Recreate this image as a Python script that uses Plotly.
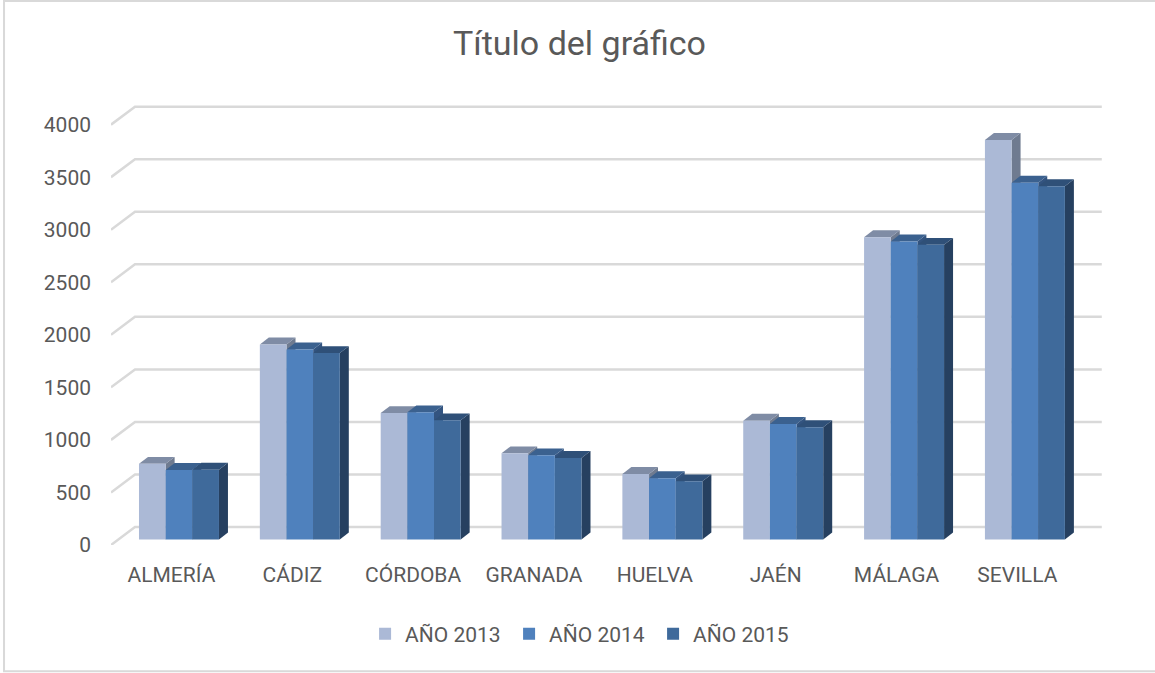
import plotly.graph_objects as go

CATEGORIES = ["ALMERÍA", "CÁDIZ", "CÓRDOBA", "GRANADA", "HUELVA", "JAÉN", "MÁLAGA", "SEVILLA"]
SERIES_NAMES = ["AÑO 2013", "AÑO 2014", "AÑO 2015"]
VALUES_2013 = [720, 1857, 1203, 820, 624, 1131, 2877, 3802]
VALUES_2014 = [662, 1809, 1210, 801, 583, 1100, 2836, 3396]
VALUES_2015 = [665, 1774, 1134, 776, 554, 1068, 2804, 3362]
TICKS = [0, 500, 1000, 1500, 2000, 2500, 3000, 3500, 4000]

FRONT = ["#ABB9D6", "#4F81BD", "#3F6A9B"]
TOP = ["#7F8CA5", "#3B618F", "#2F5078"]
SIDE = ["#6F7B90", "#335480", "#264060"]
GRID = "#D9D9D9"
TEXT = "#595959"
FONT = "Roboto"

# pseudo-3D geometry in axis units
BAR_W = 0.2206
PLANE_DX, PLANE_DY = 0.0625, 52
DEPTH_DX, DEPTH_DY = 0.0744, 66
WALL_DX, WALL_DY = 0.1985, 171
X0, X1 = -0.5, 7.5

W, H = 1155, 673
L, B, T = 111, 673 - 545.5, 60
XMAX = 7.75
R = W - (L + (XMAX - X0) * 120.875)
Y_MAX = (545.5 - T) / 0.1052

fig = go.Figure()

# walls / gridlines
for t in TICKS:
    fig.add_trace(go.Scatter(
        x=[X0, X0 + WALL_DX, X1 + WALL_DX], y=[t, t + WALL_DY, t + WALL_DY],
        mode="lines", line=dict(color=GRID, width=2.5), showlegend=False, hoverinfo="skip"))

all_values = [VALUES_2013, VALUES_2014, VALUES_2015]
offsets = [-BAR_W, 0, BAR_W]

# top and side faces, in the back-to-front order
for c in range(len(CATEGORIES)):
    for s, vals in enumerate(all_values):
        v = vals[c] + PLANE_DY
        xl = c + PLANE_DX + offsets[s] - BAR_W / 2
        xr = xl + BAR_W
        fig.add_trace(go.Scatter(
            x=[xr, xr + DEPTH_DX, xr + DEPTH_DX, xr, xr],
            y=[PLANE_DY, PLANE_DY + DEPTH_DY, v + DEPTH_DY, v, PLANE_DY],
            fill="toself", fillcolor=SIDE[s], mode="none",
            showlegend=False, hoverinfo="skip"))
        fig.add_trace(go.Scatter(
            x=[xl, xr, xr + DEPTH_DX, xl + DEPTH_DX, xl],
            y=[v, v, v + DEPTH_DY, v + DEPTH_DY, v],
            fill="toself", fillcolor=TOP[s], mode="none",
            showlegend=False, hoverinfo="skip"))

# front faces on an overlaid axis pair so they sit above the depth faces
for s, vals in enumerate(all_values):
    fig.add_trace(go.Bar(
        x=[c + PLANE_DX + offsets[s] for c in range(len(CATEGORIES))],
        y=vals, base=PLANE_DY, width=BAR_W, name=SERIES_NAMES[s],
        marker=dict(color=FRONT[s], line=dict(width=0)),
        xaxis="x2", yaxis="y2"))

fig.update_layout(
    width=W, height=H, autosize=False,
    margin=dict(l=L, r=R, t=T, b=B, pad=0),
    paper_bgcolor="white", plot_bgcolor="white",
    barmode="overlay",
    font=dict(family=FONT, color=TEXT, size=21),
    title=dict(text="Título del gráfico", x=579.5 / W, xanchor="center",
               y=1 - 43 / H, yanchor="middle",
               font=dict(family=FONT, size=34, color=TEXT)),
    xaxis=dict(range=[X0, XMAX], tickvals=list(range(len(CATEGORIES))), ticktext=CATEGORIES,
               showgrid=False, zeroline=False, showline=False, ticks="", ticklen=0,
               ticklabelstandoff=15,
               tickfont=dict(family=FONT, size=21, color=TEXT), automargin=False, fixedrange=True),
    yaxis=dict(range=[0, Y_MAX], tickvals=TICKS, showgrid=False, zeroline=False, showline=False,
               ticks="", ticklabelstandoff=19,
               tickfont=dict(family=FONT, size=21, color=TEXT), automargin=False,
               fixedrange=True),
    xaxis2=dict(range=[X0, XMAX], overlaying="x", visible=False, fixedrange=True),
    yaxis2=dict(range=[0, Y_MAX], overlaying="y", visible=False, fixedrange=True),
    legend=dict(orientation="h", x=0.4715, xanchor="center", y=1 - 634 / H, yanchor="middle",
                yref="container", xref="paper",
                font=dict(family=FONT, size=21, color=TEXT), entrywidth=99, entrywidthmode="pixels",
                bgcolor="rgba(0,0,0,0)"),
    shapes=[dict(type="rect", xref="paper", yref="paper",
                 x0=(4 - L) / (W - L - R), x1=(1160 - L) / (W - L - R),
                 y0=-(672 - 545.5) / (545.5 - T), y1=(545.5 - 1) / (545.5 - T),
                 line=dict(color=GRID, width=2), fillcolor="rgba(0,0,0,0)", layer="below")],
)

fig.write_html("out.html", config=dict(displayModeBar=False),
               post_script="document.body.style.margin='0';document.body.style.overflow='hidden';")
